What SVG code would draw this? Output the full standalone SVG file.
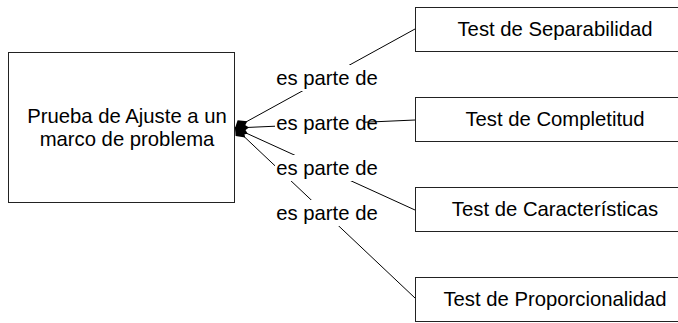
<svg xmlns="http://www.w3.org/2000/svg" width="678" height="323" viewBox="0 0 678 323">
<style>
.box{fill:#fff;stroke:#222;stroke-width:1}
.t{font-family:"Liberation Sans",Arial,sans-serif;font-size:20.3px;fill:#000;text-anchor:middle}
.ln{stroke:#000;stroke-width:1;fill:none}
.bg{fill:#fff}
</style>
<defs>
<marker id="dia" markerUnits="userSpaceOnUse" markerWidth="16" markerHeight="14" refX="0" refY="7" orient="auto" viewBox="0 0 16 14" overflow="visible">
<path d="M0,7 L6,1.5 L14,7 L6,12.5 Z" fill="#000"/>
</marker>
</defs>
<rect width="678" height="323" fill="#fff"/>
<g id="connectors">
<path class="ln" d="M235,128 L415,29" marker-start="url(#dia)"/>
<path class="ln" d="M235,128 L415,120" marker-start="url(#dia)"/>
<path class="ln" d="M235,128 L415,210" marker-start="url(#dia)"/>
<path class="ln" d="M235,128 L415,298" marker-start="url(#dia)"/>
<g id="label1"><rect class="bg" x="275" y="65" width="104" height="26"/><text class="t" x="327" y="85">es parte de</text></g>
<g id="label2"><rect class="bg" x="275" y="110" width="90" height="26"/><text class="t" x="327" y="130">es parte de</text></g>
<g id="label3"><rect class="bg" x="275" y="155" width="104" height="26"/><text class="t" x="327" y="175">es parte de</text></g>
<g id="label4"><rect class="bg" x="275" y="200" width="104" height="26"/><text class="t" x="327" y="220">es parte de</text></g>
</g>
<g id="main">
<rect class="box" x="8.5" y="52.5" width="226" height="150"/>
<text class="t" x="127" y="123">Prueba de Ajuste a un</text>
<text class="t" x="127" y="146">marco de problema</text>
</g>
<g id="separabilidad">
<rect class="box" x="415.5" y="7.5" width="280" height="44"/>
<text class="t" x="555" y="36">Test de Separabilidad</text>
</g>
<g id="completitud">
<rect class="box" x="415.5" y="97.5" width="280" height="44"/>
<text class="t" x="555" y="126">Test de Completitud</text>
</g>
<g id="caracteristicas">
<rect class="box" x="415.5" y="187.5" width="280" height="44"/>
<text class="t" x="555" y="216">Test de Características</text>
</g>
<g id="proporcionalidad">
<rect class="box" x="415.5" y="277.5" width="280" height="44"/>
<text class="t" x="555" y="306">Test de Proporcionalidad</text>
</g>
</svg>
